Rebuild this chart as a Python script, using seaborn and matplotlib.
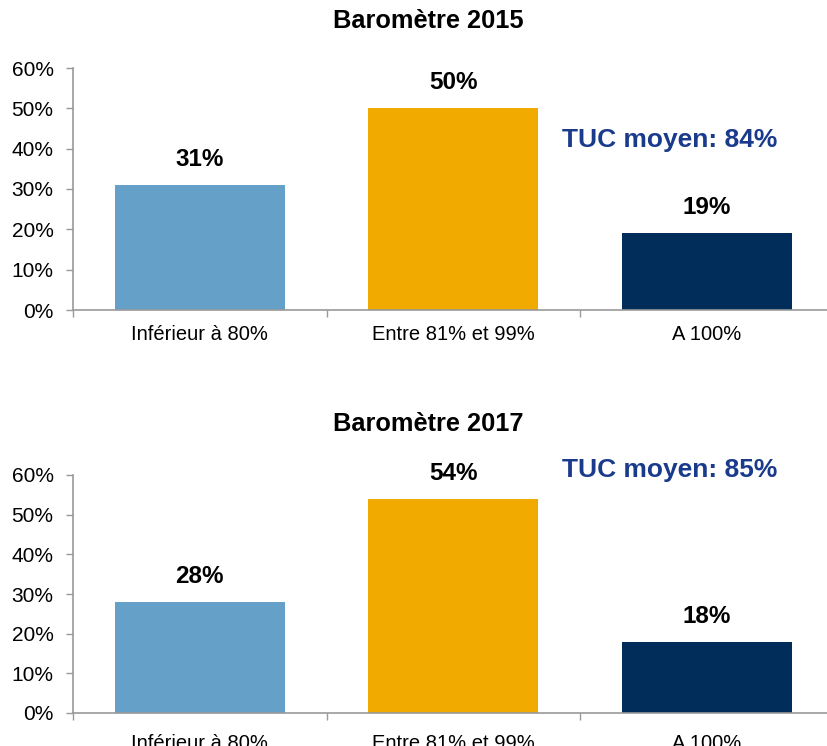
import matplotlib
matplotlib.use("Agg")
import matplotlib.pyplot as plt
import matplotlib.ticker as mticker
import seaborn as sns
import pandas as pd

categories = ["Inférieur à 80%", "Entre 81% et 99%", "A 100%"]
values_2015 = [0.31, 0.50, 0.19]
values_2017 = [0.28, 0.54, 0.18]
titles = ["Baromètre 2015", "Baromètre 2017"]
tuc_labels = ["TUC moyen: 84%", "TUC moyen: 85%"]
colors = ["#64A0C8", "#F0AA00", "#002D5A"]

sns.set_theme(style="white")
plt.rcParams['font.family'] = ['Liberation Sans', 'DejaVu Sans']

fig = plt.figure(figsize=(8.27, 7.46), dpi=100)
W, H = 827, 746

def axes_px(left, right, top, bottom):
    return fig.add_axes([left / W, 1 - bottom / H, (right - left) / W, (bottom - top) / H])

ax1 = axes_px(73, 833.75, 68, 310)
ax2 = axes_px(73, 833.75, 475, 713)

tuc_pos = [(1.43, 0.421), (1.43, 0.613)]
title_y = [21, 424]
xpads = [5, 9]

for ax, vals, title, tuc, tp, ty, xp in zip([ax1, ax2], [values_2015, values_2017], titles,
                                            tuc_labels, tuc_pos, title_y, xpads):
    df = pd.DataFrame({"cat": categories, "val": vals})
    sns.barplot(data=df, x="cat", y="val", hue="cat", palette=colors, legend=False,
                width=0.67, saturation=1, linewidth=0, ax=ax)
    ax.set_xlim(-0.5, 2.5)
    ax.set_ylim(0, 0.6)
    ax.yaxis.set_major_locator(mticker.MultipleLocator(0.1))
    ax.yaxis.set_major_formatter(mticker.PercentFormatter(1.0, decimals=0))
    ax.set_xlabel("")
    ax.set_ylabel("")
    for s in ["top", "right"]:
        ax.spines[s].set_visible(False)
    for s in ["left", "bottom"]:
        ax.spines[s].set_color("#999999")
        ax.spines[s].set_linewidth(1.2)
    ax.tick_params(axis="y", which="major", left=True, length=5, width=1, color="#999999",
                   labelsize=15, labelcolor="#000000", pad=9)
    ax.tick_params(axis="x", which="major", bottom=False, labelsize=14.5, labelcolor="#000000", pad=xp)
    ax.set_xticks([-0.5, 0.5, 1.5], minor=True)
    ax.tick_params(axis="x", which="minor", bottom=True, length=5, width=1, color="#999999")
    for i, v in enumerate(vals):
        ax.annotate(f"{round(v*100)}%", (i, v), xytext=(0, 10), textcoords="offset points",
                    ha="center", va="bottom", fontsize=17.5, fontweight="bold", color="#000000")
    ax.text(tp[0], tp[1], tuc, ha="left", va="center", fontsize=19, fontweight="bold",
            color="#1A3A8C", transform=ax.transData, clip_on=False)
    fig.text(428 / W, 1 - ty / H, title, ha="center", va="center", fontsize=18.3,
             fontweight="bold", color="#000000")

fig.savefig("out.png", dpi=100)
